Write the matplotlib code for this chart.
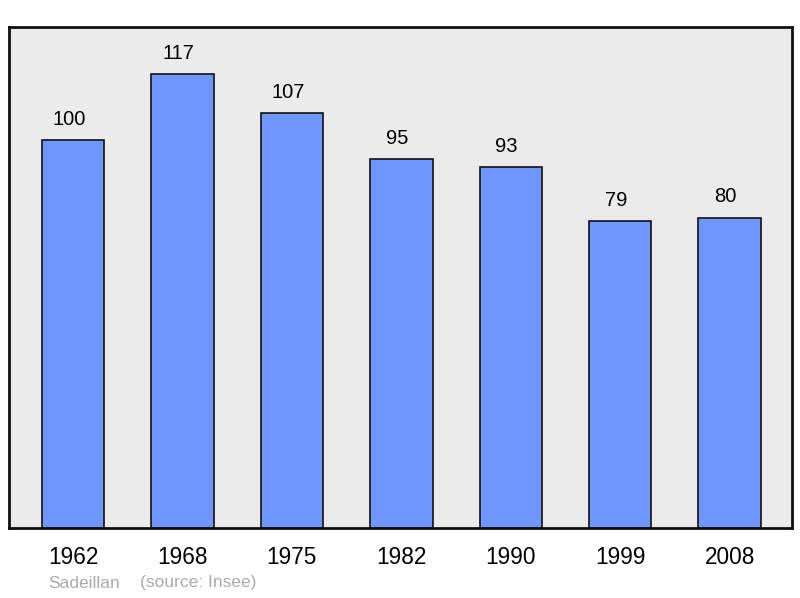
import matplotlib
matplotlib.use("Agg")
from matplotlib import pyplot as plt

years = ["1962", "1968", "1975", "1982", "1990", "1999", "2008"]
population = [100, 117, 107, 95, 93, 79, 80]
town = "Sadeillan"
source = "(source: Insee)"

plt.rcParams['font.family'] = ['Liberation Sans', 'DejaVu Sans']

fig = plt.figure(figsize=(8, 5.98), dpi=100)
ax = fig.add_axes([9/800, 70/598, 783/800, 501/598])
ax.set_facecolor('#ebebeb')

pos = list(range(len(years)))
ax.bar(pos, population, width=0.57, color='#7096ff', edgecolor='#111111', linewidth=1.2, zorder=2)
for x, v in zip(pos, population):
    ax.annotate(str(v), (x, v), xytext=(-3, 8), textcoords='offset points',
                ha='center', va='bottom', fontsize=14.5)

ax.set_xlim(-0.585, 6.57)
ax.set_ylim(0, 129.1)
ax.set_yticks([])
ax.set_xticks(pos)
ax.set_xticklabels(years, fontsize=16.3)
ax.tick_params(axis='x', length=0, pad=13)
for s in ax.spines.values():
    s.set_linewidth(2)
    s.set_color('#111111')

fig.text(48/800, 1 - 583/598, town, color='#aaaaaa', fontsize=12.5, va='center')
fig.text(140/800, 1 - 583/598, source, color='#aaaaaa', fontsize=12.5, va='center')

fig.savefig('out.png', dpi=100)
